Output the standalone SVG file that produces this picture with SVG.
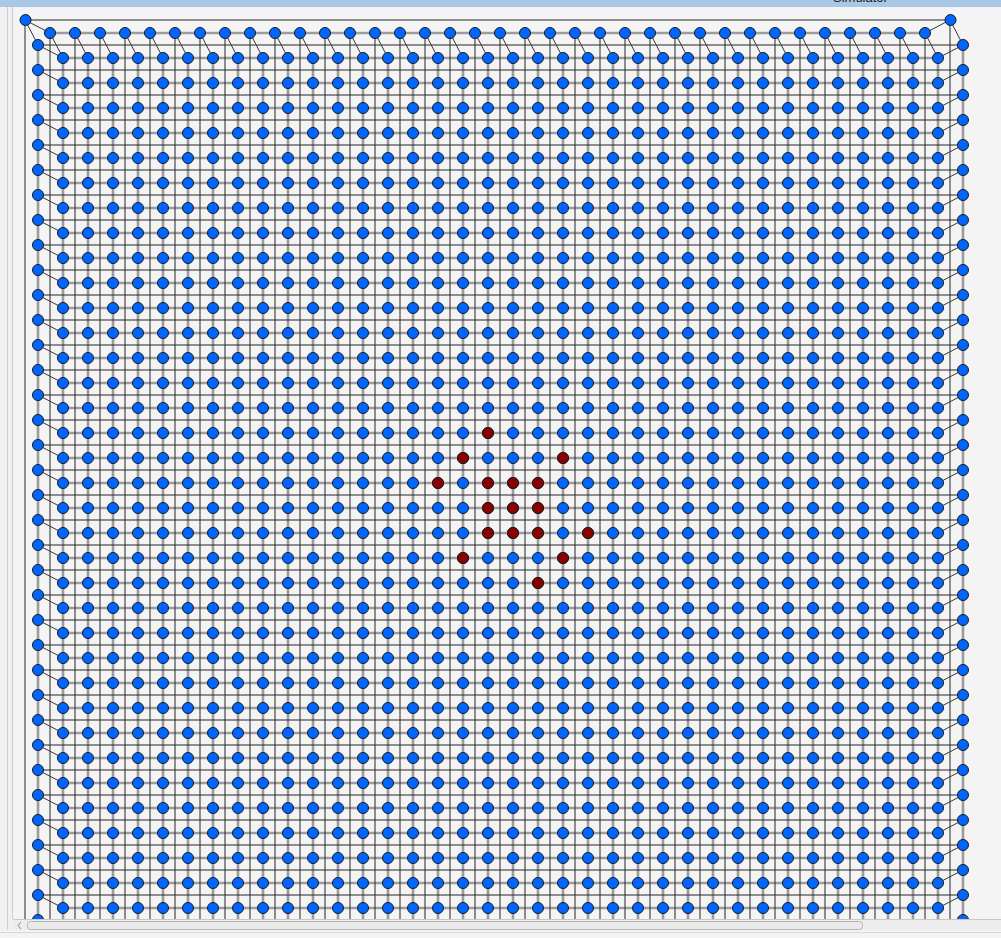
<svg xmlns="http://www.w3.org/2000/svg" xmlns:xlink="http://www.w3.org/1999/xlink" width="1001" height="938" viewBox="0 0 1001 938">
<style>
.g{fill:none;stroke:#9c9c9c;stroke-width:2.6}
.k{fill:none;stroke:#262626;stroke-width:1}
.d{fill:none;stroke:#383838;stroke-width:1}
circle{r:5.5px;stroke:#1a1a1a;stroke-width:1}
.n circle,circle.n{fill:#0066ff}
circle.r{fill:#8b0000}
</style>
<defs>
<g id="row" class="n"><circle cx="63"/><circle cx="88"/><circle cx="113"/><circle cx="138"/><circle cx="163"/><circle cx="188"/><circle cx="213"/><circle cx="238"/><circle cx="263"/><circle cx="288"/><circle cx="313"/><circle cx="338"/><circle cx="363"/><circle cx="388"/><circle cx="413"/><circle cx="438"/><circle cx="463"/><circle cx="488"/><circle cx="513"/><circle cx="538"/><circle cx="563"/><circle cx="588"/><circle cx="613"/><circle cx="638"/><circle cx="663"/><circle cx="688"/><circle cx="713"/><circle cx="738"/><circle cx="763"/><circle cx="788"/><circle cx="813"/><circle cx="838"/><circle cx="863"/><circle cx="888"/><circle cx="913"/><circle cx="938"/></g>
<g id="col" class="n"><circle cy="45"/><circle cy="70"/><circle cy="95"/><circle cy="120"/><circle cy="145"/><circle cy="170"/><circle cy="195"/><circle cy="220"/><circle cy="245"/><circle cy="270"/><circle cy="295"/><circle cy="320"/><circle cy="345"/><circle cy="370"/><circle cy="395"/><circle cy="420"/><circle cy="445"/><circle cy="470"/><circle cy="495"/><circle cy="520"/><circle cy="545"/><circle cy="570"/><circle cy="595"/><circle cy="620"/><circle cy="645"/><circle cy="670"/><circle cy="695"/><circle cy="720"/><circle cy="745"/><circle cy="770"/><circle cy="795"/><circle cy="820"/><circle cy="845"/><circle cy="870"/><circle cy="895"/><circle cy="920"/></g>
</defs>
<rect width="1001" height="938" fill="#f4f4f4"/>
<g id="connectors">
<path class="g" d="M50 33H925M63 58H938M63 83H938M63 108H938M63 133H938M63 158H938M63 183H938M63 208H938M63 233H938M63 258H938M63 283H938M63 308H938M63 333H938M63 358H938M63 383H938M63 408H938M63 433H938M63 458H938M63 483H938M63 508H938M63 533H938M63 558H938M63 583H938M63 608H938M63 633H938M63 658H938M63 683H938M63 708H938M63 733H938M63 758H938M63 783H938M63 808H938M63 833H938M63 858H938M63 883H938M63 908H938M63 933H938"/>
<path class="g" d="M38 45V938M963 45V938M63 58V938M88 58V938M113 58V938M138 58V938M163 58V938M188 58V938M213 58V938M238 58V938M263 58V938M288 58V938M313 58V938M338 58V938M363 58V938M388 58V938M413 58V938M438 58V938M463 58V938M488 58V938M513 58V938M538 58V938M563 58V938M588 58V938M613 58V938M638 58V938M663 58V938M688 58V938M713 58V938M738 58V938M763 58V938M788 58V938M813 58V938M838 58V938M863 58V938M888 58V938M913 58V938M938 58V938"/>
<path class="k" d="M25 20H950M25 20V938M950 20V938M50 33V938M75 33V938M100 33V938M125 33V938M150 33V938M175 33V938M200 33V938M225 33V938M250 33V938M275 33V938M300 33V938M325 33V938M350 33V938M375 33V938M400 33V938M425 33V938M450 33V938M475 33V938M500 33V938M525 33V938M550 33V938M575 33V938M600 33V938M625 33V938M650 33V938M675 33V938M700 33V938M725 33V938M750 33V938M775 33V938M800 33V938M825 33V938M850 33V938M875 33V938M900 33V938M925 33V938"/>
<path class="k" d="M38 45H963M38 70H963M38 95H963M38 120H963M38 145H963M38 170H963M38 195H963M38 220H963M38 245H963M38 270H963M38 295H963M38 320H963M38 345H963M38 370H963M38 395H963M38 420H963M38 445H963M38 470H963M38 495H963M38 520H963M38 545H963M38 570H963M38 595H963M38 620H963M38 645H963M38 670H963M38 695H963M38 720H963M38 745H963M38 770H963M38 795H963M38 820H963M38 845H963M38 870H963M38 895H963M38 920H963"/>
<path class="d" d="M25 20L50 33M25 20L38 45M950 20L925 33M950 20L963 45M50 33l13 25M75 33l13 25M100 33l13 25M125 33l13 25M150 33l13 25M175 33l13 25M200 33l13 25M225 33l13 25M250 33l13 25M275 33l13 25M300 33l13 25M325 33l13 25M350 33l13 25M375 33l13 25M400 33l13 25M425 33l13 25M450 33l13 25M475 33l13 25M500 33l13 25M525 33l13 25M550 33l13 25M575 33l13 25M600 33l13 25M625 33l13 25M650 33l13 25M675 33l13 25M700 33l13 25M725 33l13 25M750 33l13 25M775 33l13 25M800 33l13 25M825 33l13 25M850 33l13 25M875 33l13 25M900 33l13 25M925 33l13 25"/>
<path class="d" d="M38 45l25 13M38 70l25 13M38 95l25 13M38 120l25 13M38 145l25 13M38 170l25 13M38 195l25 13M38 220l25 13M38 245l25 13M38 270l25 13M38 295l25 13M38 320l25 13M38 345l25 13M38 370l25 13M38 395l25 13M38 420l25 13M38 445l25 13M38 470l25 13M38 495l25 13M38 520l25 13M38 545l25 13M38 570l25 13M38 595l25 13M38 620l25 13M38 645l25 13M38 670l25 13M38 695l25 13M38 720l25 13M38 745l25 13M38 770l25 13M38 795l25 13M38 820l25 13M38 845l25 13M38 870l25 13M38 895l25 13M38 920l25 13"/>
<path class="d" d="M963 45l-25 13M963 70l-25 13M963 95l-25 13M963 120l-25 13M963 145l-25 13M963 170l-25 13M963 195l-25 13M963 220l-25 13M963 245l-25 13M963 270l-25 13M963 295l-25 13M963 320l-25 13M963 345l-25 13M963 370l-25 13M963 395l-25 13M963 420l-25 13M963 445l-25 13M963 470l-25 13M963 495l-25 13M963 520l-25 13M963 545l-25 13M963 570l-25 13M963 595l-25 13M963 620l-25 13M963 645l-25 13M963 670l-25 13M963 695l-25 13M963 720l-25 13M963 745l-25 13M963 770l-25 13M963 795l-25 13M963 820l-25 13M963 845l-25 13M963 870l-25 13M963 895l-25 13M963 920l-25 13"/>
</g>
<g id="nodes">
<g id="corner-left"><circle class="n" cx="25.5" cy="20"/></g>
<g id="corner-right"><circle class="n" cx="950.5" cy="20"/></g>
<use id="top-row" href="#row" x="-13" y="33"/>
<use id="left-col" href="#col" x="38"/>
<use id="right-col" href="#col" x="963"/>
<use id="row-0" href="#row" y="58"/>
<use id="row-1" href="#row" y="83"/>
<use id="row-2" href="#row" y="108"/>
<use id="row-3" href="#row" y="133"/>
<use id="row-4" href="#row" y="158"/>
<use id="row-5" href="#row" y="183"/>
<use id="row-6" href="#row" y="208"/>
<use id="row-7" href="#row" y="233"/>
<use id="row-8" href="#row" y="258"/>
<use id="row-9" href="#row" y="283"/>
<use id="row-10" href="#row" y="308"/>
<use id="row-11" href="#row" y="333"/>
<use id="row-12" href="#row" y="358"/>
<use id="row-13" href="#row" y="383"/>
<use id="row-14" href="#row" y="408"/>
<use id="row-15" href="#row" y="433"/>
<use id="row-16" href="#row" y="458"/>
<use id="row-17" href="#row" y="483"/>
<use id="row-18" href="#row" y="508"/>
<use id="row-19" href="#row" y="533"/>
<use id="row-20" href="#row" y="558"/>
<use id="row-21" href="#row" y="583"/>
<use id="row-22" href="#row" y="608"/>
<use id="row-23" href="#row" y="633"/>
<use id="row-24" href="#row" y="658"/>
<use id="row-25" href="#row" y="683"/>
<use id="row-26" href="#row" y="708"/>
<use id="row-27" href="#row" y="733"/>
<use id="row-28" href="#row" y="758"/>
<use id="row-29" href="#row" y="783"/>
<use id="row-30" href="#row" y="808"/>
<use id="row-31" href="#row" y="833"/>
<use id="row-32" href="#row" y="858"/>
<use id="row-33" href="#row" y="883"/>
<use id="row-34" href="#row" y="908"/>
<use id="row-35" href="#row" y="933"/>
<g id="r1"><circle class="r" cx="488" cy="433"/></g>
<g id="r2"><circle class="r" cx="463" cy="458"/></g>
<g id="r3"><circle class="r" cx="563" cy="458"/></g>
<g id="r4"><circle class="r" cx="438" cy="483"/></g>
<g id="r5"><circle class="r" cx="488" cy="483"/></g>
<g id="r6"><circle class="r" cx="513" cy="483"/></g>
<g id="r7"><circle class="r" cx="538" cy="483"/></g>
<g id="r8"><circle class="r" cx="488" cy="508"/></g>
<g id="r9"><circle class="r" cx="513" cy="508"/></g>
<g id="r10"><circle class="r" cx="538" cy="508"/></g>
<g id="r11"><circle class="r" cx="488" cy="533"/></g>
<g id="r12"><circle class="r" cx="513" cy="533"/></g>
<g id="r13"><circle class="r" cx="538" cy="533"/></g>
<g id="r14"><circle class="r" cx="588" cy="533"/></g>
<g id="r15"><circle class="r" cx="463" cy="558"/></g>
<g id="r16"><circle class="r" cx="563" cy="558"/></g>
<g id="r17"><circle class="r" cx="538" cy="583"/></g>
</g>
<g id="window">
<rect x="0" y="0" width="13" height="938" fill="#f0f0f0"/>
<path d="M7.5 7V938M12.5 7V919" stroke="#cdcdcd" stroke-width="1"/>
<rect x="0" y="0" width="1001" height="7" fill="#a9c8e6"/>
<text x="833" y="2" font-family="Liberation Sans, Arial, sans-serif" font-size="13" fill="#222">Simulator</text>
<rect x="13" y="919" width="988" height="19" fill="#ececec"/>
<path d="M13 919.5H1001" stroke="#c8c8c8" stroke-width="1"/>
<rect x="27.5" y="921.5" width="835" height="8" rx="3" fill="#e9e9e9" stroke="#b4b4b4" stroke-width="1"/>
<path d="M21 922L18 925.5L21 929" fill="none" stroke="#8a8a8a" stroke-width="1"/>
<rect x="0" y="930" width="1001" height="8" fill="#f3f3f3"/>
<path d="M0 932.5H1001" stroke="#d8d8d8" stroke-width="1"/>
</g>
</svg>
